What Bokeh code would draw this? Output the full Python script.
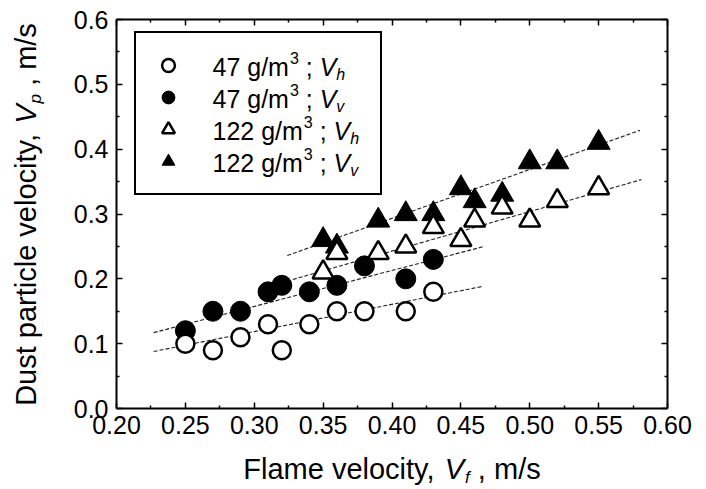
import math
from bokeh.plotting import figure
from bokeh.layouts import row, column
from bokeh.models import (LinearAxis, FixedTicker, NumeralTickFormatter,
                          Legend, LegendItem, Range1d)
from bokeh.core.properties import value
from bokeh.embed import file_html
from bokeh.resources import INLINE

# ---------------- data ----------------
x_47 = [0.25, 0.27, 0.29, 0.31, 0.32, 0.34, 0.36, 0.38, 0.41, 0.43]
vh_47 = [0.10, 0.09, 0.11, 0.13, 0.09, 0.13, 0.15, 0.15, 0.15, 0.18]
vv_47 = [0.12, 0.15, 0.15, 0.18, 0.19, 0.18, 0.19, 0.22, 0.20, 0.23]

x_122 = [0.35, 0.36, 0.39, 0.41, 0.43, 0.45, 0.46, 0.48, 0.50, 0.52, 0.55]
vh_122 = [0.21, 0.24, 0.24, 0.25, 0.28, 0.26, 0.29, 0.31, 0.29, 0.32, 0.34]
vv_122 = [0.26, 0.25, 0.29, 0.30, 0.30, 0.34, 0.32, 0.33, 0.38, 0.38, 0.41]

# fitted trend lines (end points)
fit_vh_47_x = [0.227, 0.465]
fit_vh_47_y = [0.088, 0.188]
fit_vv_47_x = [0.227, 0.467]
fit_vv_47_y = [0.117, 0.250]
fit_vh_122_x = [0.328, 0.581]
fit_vh_122_y = [0.199, 0.353]
fit_vv_122_x = [0.324, 0.580]
fit_vv_122_y = [0.236, 0.429]

x_major = [0.20, 0.25, 0.30, 0.35, 0.40, 0.45, 0.50, 0.55, 0.60]
x_minor = [0.225, 0.275, 0.325, 0.375, 0.425, 0.475, 0.525, 0.575]
y_major = [0.0, 0.1, 0.2, 0.3, 0.4, 0.5, 0.6]
y_minor = [0.05, 0.15, 0.25, 0.35, 0.45, 0.55]

legend_main = ["47 g/m", "47 g/m", "122 g/m", "122 g/m"]
legend_sub = ["h", "v", "h", "v"]
x_title = ["Flame velocity,", "V", "f", ", m/s"]
y_title = ["Dust particle velocity,", "V", "p", ", m/s"]

FONT = "Liberation Sans"

# ---------------- layout geometry (page pixels) ----------------
TOTAL_W, TOTAL_H = 698, 488
YT_W = 60                      # strip holding the y-axis title
MAIN_H = 444
XT_H = TOTAL_H - MAIN_H        # strip holding the x-axis title
MAIN_W = TOTAL_W - YT_W
FX0, FX1, FY0, FY1 = 116, 667, 408, 19     # plot frame in page pixels
BL, BR = FX0 - YT_W, TOTAL_W - FX1
BASE_SHIFT = 0.36              # measured offset of the text baseline, in em

p = figure(width=MAIN_W, height=MAIN_H, x_range=Range1d(0.2, 0.6), y_range=Range1d(0.0, 0.6),
           output_backend="svg", toolbar_location=None,
           min_border_left=BL, min_border_right=BR,
           min_border_top=FY1, min_border_bottom=MAIN_H - FY0)
p.grid.visible = False
p.outline_line_color = None
p.background_fill_color = "white"

p.add_layout(LinearAxis(), "above")
p.add_layout(LinearAxis(), "right")

for ax in p.xaxis:
    ax.ticker = FixedTicker(ticks=x_major, minor_ticks=x_minor)
    ax.formatter = NumeralTickFormatter(format="0.00")
for ax in p.yaxis:
    ax.ticker = FixedTicker(ticks=y_major, minor_ticks=y_minor)
    ax.formatter = NumeralTickFormatter(format="0.0")

for ax in p.axis:
    ax.axis_line_width = 2
    ax.axis_line_color = "black"
    ax.major_tick_in = 6
    ax.major_tick_out = 0
    ax.minor_tick_in = 3
    ax.minor_tick_out = 0
    ax.major_tick_line_width = 1.5
    ax.minor_tick_line_width = 1.5
    ax.major_label_text_font = FONT
    ax.major_label_text_font_size = "25px"
    ax.major_label_text_color = "black"

p.below[0].major_label_standoff = 7
p.left[0].major_label_standoff = 8
for ax in (p.above[0], p.right[0]):
    ax.major_label_text_font_size = "0px"
    ax.major_label_standoff = 0

# ---------------- trend lines ----------------
for fx, fy in ((fit_vh_47_x, fit_vh_47_y), (fit_vv_47_x, fit_vv_47_y),
               (fit_vh_122_x, fit_vh_122_y), (fit_vv_122_x, fit_vv_122_y)):
    p.line(fx, fy, line_color="#222222", line_width=1.1, line_dash="4 2")

# ---------------- markers ----------------
r_vv47 = p.scatter(x_47, vv_47, marker="circle", size=20, fill_color="black",
                   line_color="black", line_width=1)
r_vh47 = p.scatter(x_47, vh_47, marker="circle", size=18, fill_color="white",
                   line_color="black", line_width=2.5)
r_vv122 = p.scatter(x_122, vv_122, marker="triangle", size=23, fill_color="black",
                    line_color="black", line_width=1)
r_vh122 = p.scatter(x_122, vh_122, marker="triangle", size=21, fill_color="white",
                    line_color="black", line_width=2.5)

# ---------------- legend (keys by Bokeh, rich text drawn as text glyphs) ----------------
legend = Legend(items=[LegendItem(label=" ", renderers=[r_vh47]),
                       LegendItem(label=" ", renderers=[r_vv47]),
                       LegendItem(label=" ", renderers=[r_vh122]),
                       LegendItem(label=" ", renderers=[r_vv122])],
                location=(18, 213), margin=0, padding=16, spacing=0,
                glyph_width=32, glyph_height=32, label_height=32,
                label_width=170, label_standoff=10,
                border_line_color="black", border_line_width=2,
                border_line_alpha=1.0,
                background_fill_alpha=0.0,
                label_text_font_size="10px")
p.add_layout(legend)

W = {' ': 278, '.': 278, ',': 278, ';': 278, '/': 278, 'g': 556, 'm': 833, 's': 500,
     'V': 667, 'h': 556, 'v': 500, 'f': 278, 'p': 556, 'F': 611, 'l': 222, 'a': 556,
     'e': 556, 'o': 556, 'c': 500, 'i': 222, 't': 278, 'y': 500, 'D': 722, 'u': 556,
     'r': 333}
for d in "0123456789":
    W[d] = 556


def tw(s, size):
    return sum(W[c] for c in s) * size / 1000.0


def put(fig, text, x, y, size, style="normal", angle=0.0):
    fig.text(x=[x], y=[y], text=[text], text_font=value(FONT),
             text_font_size=value(f"{size}px"), text_font_style=value(style),
             text_color="black", text_baseline="alphabetic", text_align="left",
             angle=angle)


def px(X):
    return 0.2 + (X - FX0) * 0.4 / (FX1 - FX0)


def py(Y):
    return (FY0 - Y) * 0.6 / (FY0 - FY1)


# wanted baselines (page pixels) minus the measured baseline offset
row_centres = [67, 99, 131, 163]
LS, SS = 25, 16
for main, sub, c in zip(legend_main, legend_sub, row_centres):
    X = 212.0
    put(p, main, px(X), py(c + 8 - BASE_SHIFT * LS), LS)
    X += tw(main, LS) + 1
    put(p, "3", px(X), py(c - 4 - BASE_SHIFT * SS), SS)
    X += tw("3", SS) + tw(" ", LS)
    put(p, ";", px(X), py(c + 8 - BASE_SHIFT * LS), LS)
    X += tw("; ", LS)
    put(p, "V", px(X), py(c + 8 - BASE_SHIFT * LS), LS, "italic")
    X += tw("V", LS)
    put(p, sub, px(X), py(c + 13 - BASE_SHIFT * SS), SS, "italic")


def strip(w, h, xr, yr, bl=0, br=0, bt=0, bb=0):
    f = figure(width=w, height=h, x_range=Range1d(*xr), y_range=Range1d(*yr),
               output_backend="svg", toolbar_location=None,
               x_axis_type=None, y_axis_type=None,
               min_border_left=bl, min_border_right=br,
               min_border_top=bt, min_border_bottom=bb)
    f.grid.visible = False
    f.outline_line_color = None
    f.background_fill_color = "white"
    f.border_fill_color = "white"
    return f


# x-axis title strip: frame aligned with the plot frame, data = page pixels
xt = strip(MAIN_W, XT_H, (FX0, FX1), (0, XT_H), bl=BL, br=BR)
XS, XSS = 29, 17
sizes_x = [XS, XS, XSS, XS]
styles_x = ["normal", "italic", "italic", "normal"]
drops_x = [0, 0, 4, 0]
gaps_x = [tw(" ", XS), 1, tw(" ", XS), 0]
total = sum(tw(t, s) + g for t, s, g in zip(x_title, sizes_x, gaps_x))
X = (FX0 + FX1) / 2 - total / 2
for t, s, st, d, g in zip(x_title, sizes_x, styles_x, drops_x, gaps_x):
    put(xt, t, X, TOTAL_H - (479 + d - BASE_SHIFT * s), s, st)
    X += tw(t, s) + g

# y-axis title strip: frame aligned vertically with the plot frame
yt = strip(YT_W, TOTAL_H, (0, YT_W), (TOTAL_H - FY0, TOTAL_H - FY1),
           bt=FY1, bb=TOTAL_H - FY0)
YS, YSS = 29, 17
sizes_y = [YS, YS, YSS, YS]
styles_y = ["normal", "italic", "italic", "normal"]
shift_y = [0, 0, 5, 0]
gaps_y = [tw(" ", YS), 1, tw(" ", YS), 0]
total = sum(tw(t, s) + g for t, s, g in zip(y_title, sizes_y, gaps_y))
Y = 214 + total / 2
for t, s, st, d, g in zip(y_title, sizes_y, styles_y, shift_y, gaps_y):
    put(yt, t, 36 + d - BASE_SHIFT * s, TOTAL_H - Y, s, st, angle=math.pi / 2)
    Y -= tw(t, s) + g

layout = row(yt, column(p, xt, spacing=0), spacing=0)
open("out.html", "w").write(file_html(layout, INLINE))
